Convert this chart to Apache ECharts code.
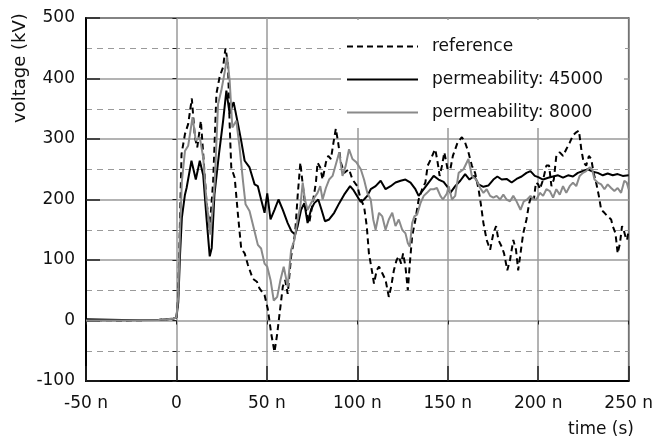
<!DOCTYPE html>
<html>
<head>
<meta charset="utf-8">
<script src="https://cdn.jsdelivr.net/npm/echarts@6.0.0/dist/echarts.min.js"></script>
<style>
  html, body { margin: 0; padding: 0; background: #fff; }
  #chart { width: 656px; height: 441px; }
</style>
</head>
<body>
<div id="chart"></div>
<script>
// time in ns, voltage in kV
var refTime = [-50, -30, -10, -2, 0, 0.5, 1, 2, 2.8, 4.7, 6.5, 8.5, 10.2, 11.5, 13.5, 14.8, 16.6, 18.4, 20.3, 22.1, 23.9, 25.8, 27.1, 28.5, 29.4, 30.3, 32.2, 34, 35.8, 37.7, 39.5, 42.2, 44.5, 45.9, 48.7, 50.5, 52.4, 54.2, 55.7, 57, 58.8, 60.1, 61.5, 63.4, 65.6, 67, 68.5, 69.2, 70.3, 71.6, 73.4, 75.3, 77.1, 78, 79.5, 80.8, 82.6, 83.9, 85.4, 86.8, 88.1, 89.4, 90.9, 92.7, 95.4, 97.3, 100, 101.9, 103.7, 105.2, 106.4, 108.3, 109.2, 110.7, 112, 113.8, 115.6, 117.4, 118.7, 120.2, 121.7, 122.9, 124.2, 125.3, 126.6, 127.9, 129, 130.3, 132.1, 133.9, 135.8, 137.6, 138.9, 140.7, 142.2, 143.1, 144.4, 145.5, 146.8, 148.1, 149.2, 149.9, 151.4, 152.8, 154.1, 155.4, 157.8, 159.6, 161.4, 163.3, 165.1, 167, 168.2, 169.7, 171.5, 173.4, 175.2, 176.7, 178, 179.8, 181.1, 182.9, 184.4, 186.2, 187.7, 188.9, 190.2, 191.7, 193.5, 195, 196.3, 197.6, 198.7, 200, 200.9, 202.7, 204.5, 206, 207.3, 208.6, 210, 211.9, 213.7, 215.5, 217.4, 219.2, 221, 222.5, 223.8, 225.1, 226.5, 228, 229.3, 230.6, 232, 233.5, 234.8, 236.6, 238.4, 240.3, 241.2, 242.7, 243.9, 245.2, 246.3, 247.2, 248.2, 249.1, 250];
var refVolt = [1, 0, 1, 3, 5, 20, 45, 170, 275, 308, 325, 367, 303, 286, 330, 275, 197, 153, 230, 375, 403, 419, 450, 425, 325, 253, 236, 175, 119, 111, 92, 69, 64, 53, 42, 19, -22, -52, -22, 11, 56, 67, 44, 106, 144, 206, 261, 264, 211, 183, 161, 194, 228, 261, 253, 233, 261, 272, 267, 294, 317, 294, 261, 244, 250, 233, 222, 200, 189, 156, 111, 78, 61, 83, 89, 78, 67, 39, 56, 83, 100, 106, 94, 111, 89, 50, 94, 139, 167, 200, 217, 228, 256, 267, 278, 283, 261, 239, 256, 278, 275, 250, 250, 272, 283, 294, 303, 294, 278, 256, 244, 217, 194, 161, 133, 117, 144, 156, 133, 122, 111, 83, 100, 133, 117, 83, 111, 144, 167, 194, 206, 200, 228, 225, 217, 233, 256, 256, 222, 233, 272, 278, 272, 283, 294, 306, 311, 314, 283, 261, 256, 272, 267, 244, 228, 206, 183, 178, 172, 167, 156, 144, 111, 128, 156, 150, 139, 133, 150];

var p45Time = [-50, -30, -10, -2, 0, 1, 2, 3, 4.7, 5.6, 8.3, 10.7, 12.9, 14.8, 16.6, 18.4, 19.5, 21, 23.5, 25.8, 27.6, 29.4, 31.6, 34, 35.8, 37.7, 40.4, 43.2, 45, 46.8, 48.7, 50.2, 52, 54.2, 56.4, 58.8, 61.5, 63.7, 65.6, 67, 68.9, 70.7, 72.5, 74.4, 76.2, 78.4, 80.2, 82.1, 84.4, 87.2, 90, 92.7, 96, 98, 100, 101.9, 103.7, 105.5, 107.4, 110.1, 112.9, 115.6, 118.4, 121.1, 123.9, 126.6, 129.4, 132.1, 133.9, 136.7, 139.4, 142.2, 144.9, 147.7, 150, 151.4, 154.1, 156.9, 159.6, 162, 164.6, 167, 169.7, 172.4, 175.2, 177.4, 179.8, 182.5, 185.3, 188, 190.8, 193.5, 195.7, 198.1, 200, 202.7, 205.5, 208.2, 211, 213.7, 216.5, 219.2, 221.9, 224.7, 227.4, 230.2, 232.9, 235.7, 238.4, 241.2, 243.9, 246.7, 250];
var p45Volt = [2, 1, 1, 3, 5, 30, 110, 170, 208, 219, 264, 233, 264, 240, 170, 106, 120, 208, 275, 330, 380, 342, 361, 325, 297, 264, 253, 225, 222, 200, 178, 210, 167, 183, 200, 183, 161, 147, 142, 156, 183, 194, 161, 183, 194, 200, 183, 164, 167, 178, 194, 208, 222, 215, 205, 196, 200, 206, 217, 222, 231, 217, 222, 228, 231, 233, 228, 217, 206, 217, 228, 239, 233, 229, 220, 211, 222, 231, 242, 233, 239, 225, 221, 223, 233, 238, 233, 234, 228, 234, 238, 244, 247, 239, 237, 233, 236, 238, 240, 236, 240, 238, 244, 247, 250, 246, 244, 240, 243, 240, 242, 239, 240];

var p8Time = [-50, -30, -10, -2, 0, 1, 2, 3, 4.7, 6.5, 8.9, 10.7, 12.9, 14.8, 16.6, 18.8, 21.2, 23, 24.8, 26.7, 28, 29.4, 30.9, 33.1, 34.9, 36.8, 38.2, 40.4, 43.2, 45, 46.8, 48.7, 50.2, 52, 53.8, 55.7, 57.5, 59.3, 61.5, 63.4, 65.2, 67, 68.5, 69.8, 71, 72.5, 74.4, 76.2, 78, 79.5, 80.8, 82.6, 84.4, 86.3, 88.1, 90, 91.8, 93.6, 95.4, 97.3, 99.6, 101.9, 103.7, 105.5, 107.4, 108.8, 110.1, 112, 113.8, 115.6, 117.4, 119.3, 121.1, 122.9, 124.8, 126.6, 127.9, 129, 130.3, 131.5, 133, 134.9, 136.7, 138.5, 140.4, 142.2, 144, 145.9, 147.3, 149.5, 150.5, 152.3, 154.1, 156, 158.7, 161.4, 163.3, 165.7, 167.9, 169.7, 171.5, 173.4, 175.2, 177, 178.9, 180.7, 182.5, 184.4, 186.2, 188, 190.2, 192, 193.9, 195.7, 197.6, 199, 200.9, 202.7, 204.5, 206.4, 208.2, 210, 211.9, 213.7, 215.5, 217.4, 219.2, 221, 222.9, 224.7, 226.5, 228.4, 229.8, 231.1, 232.9, 234.8, 236.6, 238.4, 240.3, 242.1, 243.9, 245.8, 247.6, 248.9, 250];
var p8Volt = [0, 0, 1, 3, 5, 40, 150, 230, 280, 289, 336, 297, 303, 269, 197, 142, 230, 358, 380, 411, 436, 397, 319, 330, 286, 230, 192, 181, 147, 125, 119, 94, 89, 67, 33, 39, 67, 89, 56, 117, 133, 167, 189, 228, 200, 183, 194, 203, 211, 222, 200, 219, 233, 239, 258, 278, 239, 256, 283, 267, 261, 250, 233, 211, 200, 167, 150, 178, 172, 150, 167, 178, 156, 167, 150, 144, 128, 122, 161, 172, 175, 194, 206, 211, 217, 217, 219, 206, 200, 210, 222, 200, 206, 244, 250, 267, 239, 233, 219, 211, 217, 206, 203, 206, 200, 208, 200, 197, 206, 197, 183, 197, 200, 206, 200, 200, 211, 206, 217, 214, 203, 217, 208, 222, 211, 222, 228, 222, 239, 244, 247, 253, 250, 233, 228, 225, 217, 225, 219, 214, 219, 211, 231, 228, 217];

function zip(ts, vs) {
  return ts.map(function (t, i) { return [t, vs[i]]; });
}

var font = '"DejaVu Sans", sans-serif';
var chart = echarts.init(document.getElementById('chart'));
chart.setOption({
  animation: false,
  textStyle: { fontFamily: font },
  grid: {
    left: 86, right: 25, top: 18, bottom: 60,
    show: true, borderColor: '#000', borderWidth: 1.5
  },
  legend: {
    orient: 'vertical',
    left: 341, top: 33,
    itemWidth: 71, itemHeight: 14,
    itemGap: 16,
    itemStyle: { opacity: 0 },
    textStyle: { fontSize: 17, color: '#111', fontFamily: font, padding: [0, 0, 0, 9] },
    data: ['reference', 'permeability: 45000', 'permeability: 8000']
  },
  graphic: [
    { type: 'rect', z: 1, shape: { x: 341, y: 20, width: 283, height: 108 }, style: { fill: '#fff' } },
    { type: 'text', x: 20, y: 68, rotation: Math.PI / 2,
      style: { text: 'voltage (kV)', font: '18px ' + font, fill: '#111', textAlign: 'center', textVerticalAlign: 'middle' } },
    { type: 'text', x: 601, y: 430,
      style: { text: 'time (s)', font: '17px ' + font, fill: '#111', textAlign: 'center', textVerticalAlign: 'middle' } }
  ],
  xAxis: [{
    type: 'value', min: -50, max: 250, interval: 50,
    axisLine: { onZero: false, lineStyle: { color: '#000', width: 2 } },
    axisTick: { inside: true, length: 15, lineStyle: { color: '#222', width: 1.5 } },
    axisLabel: {
      margin: 14, fontSize: 17, color: '#111',
      formatter: function (v) { return v === 0 ? '0' : v + ' n'; }
    },
    splitLine: { show: true, lineStyle: { color: '#9a9a9a', width: 1.5 } }
  }, {
    type: 'value', position: 'top', min: -50, max: 250, interval: 50,
    axisLine: { show: false },
    axisTick: { inside: true, length: 4, lineStyle: { color: '#222' } },
    axisLabel: { show: false },
    splitLine: { show: false }
  }],
  yAxis: [{
    type: 'value', min: -100, max: 500, interval: 100,
    axisLine: { show: true, onZero: false, lineStyle: { color: '#000', width: 2 } },
    axisTick: { show: true, inside: true, length: 14, lineStyle: { color: '#222', width: 1.5 } },
    axisLabel: { margin: 11, fontSize: 17, color: '#111' },
    splitLine: { show: true, lineStyle: { color: '#9a9a9a', width: 1.5 } },
    minorTick: { show: false, splitNumber: 2 },
    minorSplitLine: { show: true, lineStyle: { color: '#9a9a9a', width: 1.2, type: [6, 5] } }
  }, {
    type: 'value', position: 'right', min: -100, max: 500, interval: 100,
    axisLine: { show: false },
    axisTick: { show: true, inside: true, length: 4, lineStyle: { color: '#222' } },
    minorTick: { show: true, splitNumber: 2, length: 4, lineStyle: { color: '#222' } },
    axisLabel: { show: false },
    splitLine: { show: false }
  }],
  series: [{
    name: 'reference', type: 'line', symbol: 'none',
    data: zip(refTime, refVolt),
    lineStyle: { color: '#000', width: 2, type: [6, 4] },
    itemStyle: { color: '#000' }
  }, {
    name: 'permeability: 45000', type: 'line', symbol: 'none',
    data: zip(p45Time, p45Volt),
    lineStyle: { color: '#000', width: 2 },
    itemStyle: { color: '#000' }
  }, {
    name: 'permeability: 8000', type: 'line', symbol: 'none',
    data: zip(p8Time, p8Volt),
    lineStyle: { color: '#8a8a8a', width: 2 },
    itemStyle: { color: '#8a8a8a' }
  }]
});
</script>
</body>
</html>
